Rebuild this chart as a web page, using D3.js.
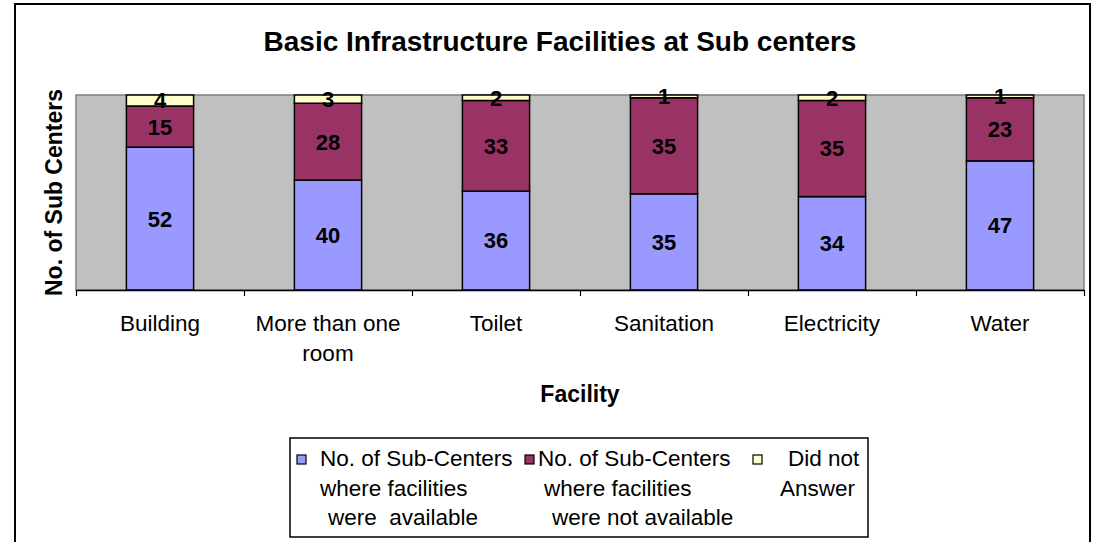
<!DOCTYPE html>
<html>
<head>
<meta charset="utf-8">
<script src="https://cdn.jsdelivr.net/npm/d3@7"></script>
<style>
  body { margin: 0; background: #fff; }
  text { font-family: "Liberation Sans", Arial, sans-serif; }
</style>
</head>
<body>
<div id="chart"></div>
<script>
// chart data
var categories = ["Building", "More than one room", "Toilet", "Sanitation", "Electricity", "Water"];
var available = [52, 40, 36, 35, 34, 47];
var notAvailable = [15, 28, 33, 35, 35, 23];
var noAnswer = [4, 3, 2, 1, 2, 1];
var seriesNames = ["available", "notAvailable", "noAnswer"];
var legendLines = [
  ["No. of Sub-Centers", "where facilities", "were  available"],
  ["No. of Sub-Centers", "where facilities", "were not available"],
  ["Did not", "Answer"]
];
var colors = ["#9999FF", "#993366", "#FFFFCC"];

var svgWidth = 1100;
var svgHeight = 542;

// plot area in pixels
var plot = { left: 76, top: 95, right: 1084, bottom: 290 };

var svg = d3.select("#chart")
  .append("svg")
  .attr("width", svgWidth)
  .attr("height", svgHeight);

// outer chart frame (bottom edge is cut off in the picture)
svg.append("rect")
  .attr("x", 15).attr("y", 4)
  .attr("width", 1075).attr("height", 600)
  .attr("fill", "#fff")
  .attr("stroke", "#000")
  .attr("stroke-width", 2);

// title
svg.append("text")
  .attr("x", 560).attr("y", 51)
  .attr("text-anchor", "middle")
  .style("font-size", "28px")
  .style("font-weight", "bold")
  .text("Basic Infrastructure Facilities at Sub centers");

// data rows for the stack
var rows = categories.map(function(c, i) {
  return { category: c, available: available[i], notAvailable: notAvailable[i], noAnswer: noAnswer[i] };
});
var stacked = d3.stack().keys(seriesNames)(rows);

var xScale = d3.scaleBand()
  .domain(categories)
  .range([plot.left, plot.right]);

var yMax = d3.max(rows, function(d) { return d.available + d.notAvailable + d.noAnswer; });
var yScale = d3.scaleLinear()
  .domain([0, yMax])
  .range([plot.bottom, plot.top]);

// gray plot background
svg.append("rect")
  .attr("x", plot.left).attr("y", plot.top)
  .attr("width", plot.right - plot.left)
  .attr("height", plot.bottom - plot.top)
  .attr("fill", "#C0C0C0")
  .attr("stroke", "#808080")
  .attr("stroke-width", 1.5);

var barWidth = xScale.bandwidth() * 0.4;

var seriesGroups = svg.selectAll(".series")
  .data(stacked)
  .enter()
  .append("g")
  .attr("class", "series")
  .attr("fill", function(d, i) { return colors[i]; });

seriesGroups.selectAll("rect")
  .data(function(d) { return d; })
  .enter()
  .append("rect")
  .attr("x", function(d) { return xScale(d.data.category) + (xScale.bandwidth() - barWidth) / 2; })
  .attr("y", function(d) { return yScale(d[1]); })
  .attr("width", barWidth)
  .attr("height", function(d) { return yScale(d[0]) - yScale(d[1]); })
  .attr("stroke", "#000")
  .attr("stroke-width", 1.5);

// value labels in the middle of each segment
seriesGroups.selectAll("text")
  .data(function(d) { return d; })
  .enter()
  .append("text")
  .attr("x", function(d) { return xScale(d.data.category) + xScale.bandwidth() / 2; })
  .attr("y", function(d) { return (yScale(d[0]) + yScale(d[1])) / 2; })
  .attr("dy", "0.36em")
  .attr("text-anchor", "middle")
  .attr("fill", "#000")
  .style("font-size", "22px")
  .style("font-weight", "bold")
  .text(function(d) { return d[1] - d[0]; });

// x axis: line with ticks between categories
var tickScale = d3.scaleLinear()
  .domain([0, categories.length])
  .range([plot.left, plot.right]);

var xAxis = svg.append("g")
  .attr("transform", `translate(0, ${plot.bottom})`)
  .call(d3.axisBottom(tickScale)
    .ticks(categories.length)
    .tickSize(6)
    .tickSizeOuter(0)
    .tickFormat(""));
xAxis.select(".domain").attr("stroke", "#000").attr("stroke-width", 1.5);
xAxis.selectAll(".tick line").attr("stroke", "#000").attr("stroke-width", 1.2);

// category labels, wrapped to the band width
var catLabels = svg.append("g")
  .selectAll("text")
  .data(categories)
  .enter()
  .append("text")
  .attr("x", function(d) { return xScale(d) + xScale.bandwidth() / 2; })
  .attr("y", 331)
  .attr("text-anchor", "middle")
  .style("font-size", "22.5px")
  .attr("fill", "#000");

catLabels.each(function(d) {
  var node = d3.select(this);
  var x = node.attr("x");
  var words = d.split(" ");
  var lines = [];
  var line = [];
  var probe = node.append("tspan");
  words.forEach(function(w) {
    line.push(w);
    probe.text(line.join(" "));
    if (probe.node().getComputedTextLength() > xScale.bandwidth() * 0.92 && line.length > 1) {
      line.pop();
      lines.push(line.join(" "));
      line = [w];
    }
  });
  lines.push(line.join(" "));
  probe.remove();
  lines.forEach(function(l, i) {
    node.append("tspan")
      .attr("x", x)
      .attr("dy", i === 0 ? 0 : 30)
      .text(l);
  });
});

// axis titles
svg.append("text")
  .attr("x", (plot.left + plot.right) / 2)
  .attr("y", 402)
  .attr("text-anchor", "middle")
  .style("font-size", "23px")
  .style("font-weight", "bold")
  .text("Facility");

svg.append("text")
  .attr("transform", `translate(62, ${(plot.top + plot.bottom) / 2}) rotate(-90)`)
  .attr("text-anchor", "middle")
  .style("font-size", "23px")
  .style("font-weight", "bold")
  .text("No. of Sub Centers");

// legend
var legend = svg.append("g");
legend.append("rect")
  .attr("x", 290).attr("y", 438)
  .attr("width", 578).attr("height", 99)
  .attr("fill", "#fff")
  .attr("stroke", "#000")
  .attr("stroke-width", 1.5);

var swatchX = [297, 525, 753];
var textX = [320, 538, 780];
var lineIndent = [[0, 0, 8], [0, 6, 14], [8, 0]];

legendLines.forEach(function(lines, i) {
  legend.append("rect")
    .attr("x", swatchX[i]).attr("y", 455)
    .attr("width", 9).attr("height", 9)
    .attr("fill", colors[i])
    .attr("stroke", "#000")
    .attr("stroke-width", 1.2);
  var t = legend.append("text")
    .attr("y", 466)
    .style("font-size", "22.5px")
    .attr("fill", "#000");
  lines.forEach(function(l, j) {
    t.append("tspan")
      .attr("x", textX[i] + lineIndent[i][j])
      .attr("y", 466 + j * 29.5)
      .style("white-space", "pre")
      .attr("xml:space", "preserve")
      .text(l);
  });
});
</script>
</body>
</html>
